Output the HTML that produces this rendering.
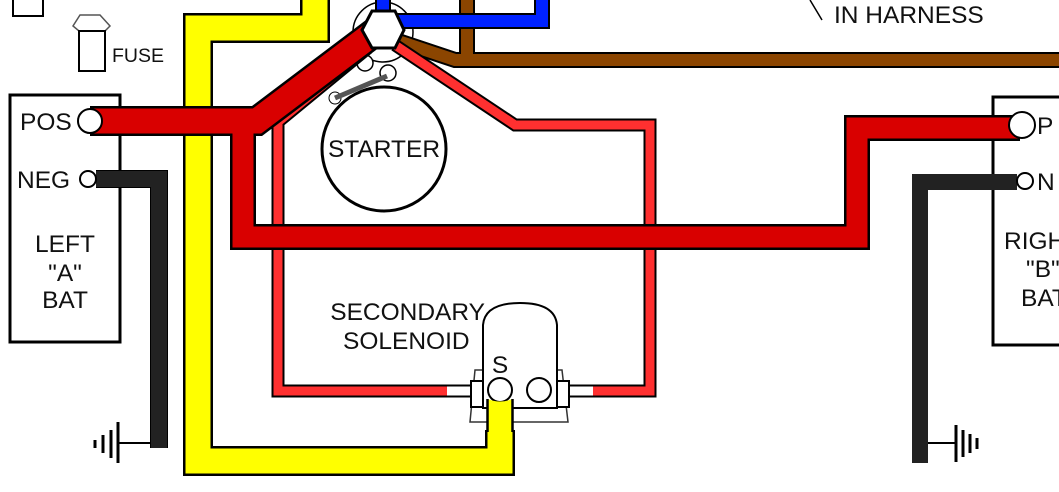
<!DOCTYPE html>
<html><head><style>
html,body{margin:0;padding:0;background:#fff;}
svg{display:block;font-family:"Liberation Sans",Arial,sans-serif;}
text{font-size:24.5px;fill:#111;}
</style></head><body>
<svg width="1059" height="492" viewBox="0 0 1059 492" xmlns="http://www.w3.org/2000/svg">
<rect width="1059" height="492" fill="#fff"/>
<rect x="13" y="-5" width="30" height="21" fill="none" stroke="#000" stroke-width="2"/>
<path d="M80 15 L100 15 L110 26 L105 31 L79 31 L73 26 Z" fill="#fff" stroke="#555" stroke-width="1.5"/>
<rect x="79" y="31" width="26" height="40" fill="#fff" stroke="#000" stroke-width="2"/>
<text x="112" y="62" style="font-size:19.5px">FUSE</text>
<line x1="810" y1="0" x2="822" y2="20" stroke="#000" stroke-width="1.5"/>
<text x="834" y="23">IN HARNESS</text>

<rect x="10" y="95" width="110" height="247" fill="#fff" stroke="#000" stroke-width="3"/>
<text x="20" y="130">POS</text>
<text x="17" y="188">NEG</text>
<text x="65" y="252" text-anchor="middle">LEFT</text>
<text x="65" y="281" text-anchor="middle">"A"</text>
<text x="65" y="308" text-anchor="middle">BAT</text>
<rect x="993" y="97" width="80" height="248" fill="#fff" stroke="#000" stroke-width="3"/>
<text x="1037" y="134">P</text>
<text x="1037" y="190">N</text>
<text x="1004" y="249">RIGH</text>
<text x="1026" y="277">"B"</text>
<text x="1021" y="306">BAT</text>

<circle cx="383" cy="32" r="30" fill="none" stroke="#000" stroke-width="1.5"/>
<circle cx="384" cy="149" r="62" fill="#fff" stroke="#000" stroke-width="3"/>
<text x="384" y="157" text-anchor="middle">STARTER</text>
<circle cx="365" cy="63" r="8" fill="#fff" stroke="#000" stroke-width="1.5"/>
<circle cx="388" cy="73" r="8" fill="#fff" stroke="#000" stroke-width="1.5"/>
<circle cx="335" cy="98" r="6" fill="#fff" stroke="#000" stroke-width="1"/>
<line x1="335" y1="98" x2="387" y2="76" stroke="#555" stroke-width="5"/>

<g fill="none" stroke-linejoin="miter" stroke-linecap="butt">
<path d="M467 -5 L467 60" stroke="#000" stroke-width="16"/>
<path d="M395 40 L455 60 L1065 60" stroke="#000" stroke-width="16"/>
<path d="M467 -5 L467 60" stroke="#8b4500" stroke-width="12"/>
<path d="M395 40 L455 60 L1065 60" stroke="#8b4500" stroke-width="12"/>
<path d="M383 -5 L383 12" stroke="#000" stroke-width="16"/>
<path d="M395 21 L542 21 L542 -5" stroke="#000" stroke-width="16"/>
<path d="M383 -5 L383 12" stroke="#0022ff" stroke-width="12"/>
<path d="M395 21 L542 21 L542 -5" stroke="#0022ff" stroke-width="12"/>
<path d="M500 430 L500 461 L198 461 L198 28 L315 28 L315 -5" stroke="#000" stroke-width="30"/>
<path d="M500 430 L500 461 L198 461 L198 28 L315 28 L315 -5" stroke="#ffff00" stroke-width="25"/>
<path d="M395 45 L515 125 L650 125 L650 391 L570 391" stroke="#000" stroke-width="13"/>
<path d="M368 48 L278 122 L278 391 L472 391" stroke="#000" stroke-width="13"/>
<path d="M395 45 L515 125 L650 125 L650 391 L593 391" stroke="#ff3030" stroke-width="9"/>
<path d="M368 48 L278 122 L278 391 L447 391" stroke="#ff3030" stroke-width="9"/>
<path d="M447 391 L471 391" stroke="#fff" stroke-width="9"/>
<path d="M569 391 L593 391" stroke="#fff" stroke-width="9"/>
<path d="M96 179 L159 179 L159 448" stroke="#000" stroke-width="18"/>
<path d="M96 179 L159 179 L159 448" stroke="#222" stroke-width="16"/>
<path d="M1017 182 L920 182 L920 463" stroke="#222" stroke-width="16"/>
<path d="M90 121 L257 121 L375 32" stroke="#000" stroke-width="30"/>
<path d="M243 121 L243 237 L857 237 L857 128 L1020 128" stroke="#000" stroke-width="26"/>
<path d="M90 121 L257 121 L375 32" stroke="#d90000" stroke-width="25"/>
<path d="M243 121 L243 237 L857 237 L857 128 L1020 128" stroke="#d90000" stroke-width="21"/>
</g>
<polygon points="372,11 395,11 404,30 395,48 372,48 362,30" fill="#fff" stroke="#000" stroke-width="3"/>
<circle cx="90" cy="121" r="12" fill="#fff" stroke="#000" stroke-width="2"/>
<circle cx="88" cy="179" r="8" fill="#fff" stroke="#000" stroke-width="2"/>
<circle cx="1022" cy="125" r="13" fill="#fff" stroke="#000" stroke-width="2"/>
<circle cx="1025" cy="181" r="8" fill="#fff" stroke="#000" stroke-width="2"/>

<g stroke="#000" stroke-width="3">
<line x1="118" y1="443" x2="151" y2="443" stroke-width="2"/>
<line x1="118" y1="422" x2="118" y2="463"/>
<line x1="111" y1="430" x2="111" y2="458"/>
<line x1="103" y1="435" x2="103" y2="453"/>
<line x1="95" y1="440" x2="95" y2="448"/>
<line x1="928" y1="443" x2="956" y2="443" stroke-width="2"/>
<line x1="956" y1="425" x2="956" y2="462"/>
<line x1="963" y1="430" x2="963" y2="457"/>
<line x1="970" y1="434" x2="970" y2="453"/>
<line x1="977" y1="438" x2="977" y2="449"/>
</g>

<path d="M470 422 L475 370 L562 370 L568 422 Z" fill="#fff" stroke="#333" stroke-width="1.5"/>
<rect x="471" y="381" width="14" height="26" fill="#fff" stroke="#000" stroke-width="2"/>
<rect x="555" y="381" width="14" height="26" fill="#fff" stroke="#000" stroke-width="2"/>
<path d="M483 408 L483 325 Q485 303 520 303 Q555 303 557 325 L557 408 Z" fill="#fff" stroke="#000" stroke-width="2"/>
<text x="500" y="373" text-anchor="middle">S</text>
<circle cx="500" cy="390" r="12" fill="#fff" stroke="#000" stroke-width="2"/>
<circle cx="539" cy="390" r="12" fill="#fff" stroke="#000" stroke-width="2"/>
<!-- yellow end into terminal -->
<path d="M487.5 399 Q500 404 512.5 399 L512.5 432 L487.5 432 Z" fill="#ffff00"/>
<path d="M487.5 399 L487.5 432 M512.5 399 L512.5 432" stroke="#000" stroke-width="2.5"/>
<text x="485" y="320" text-anchor="end">SECONDARY</text>
<text x="343" y="349">SOLENOID</text>
</svg>
</body></html>
